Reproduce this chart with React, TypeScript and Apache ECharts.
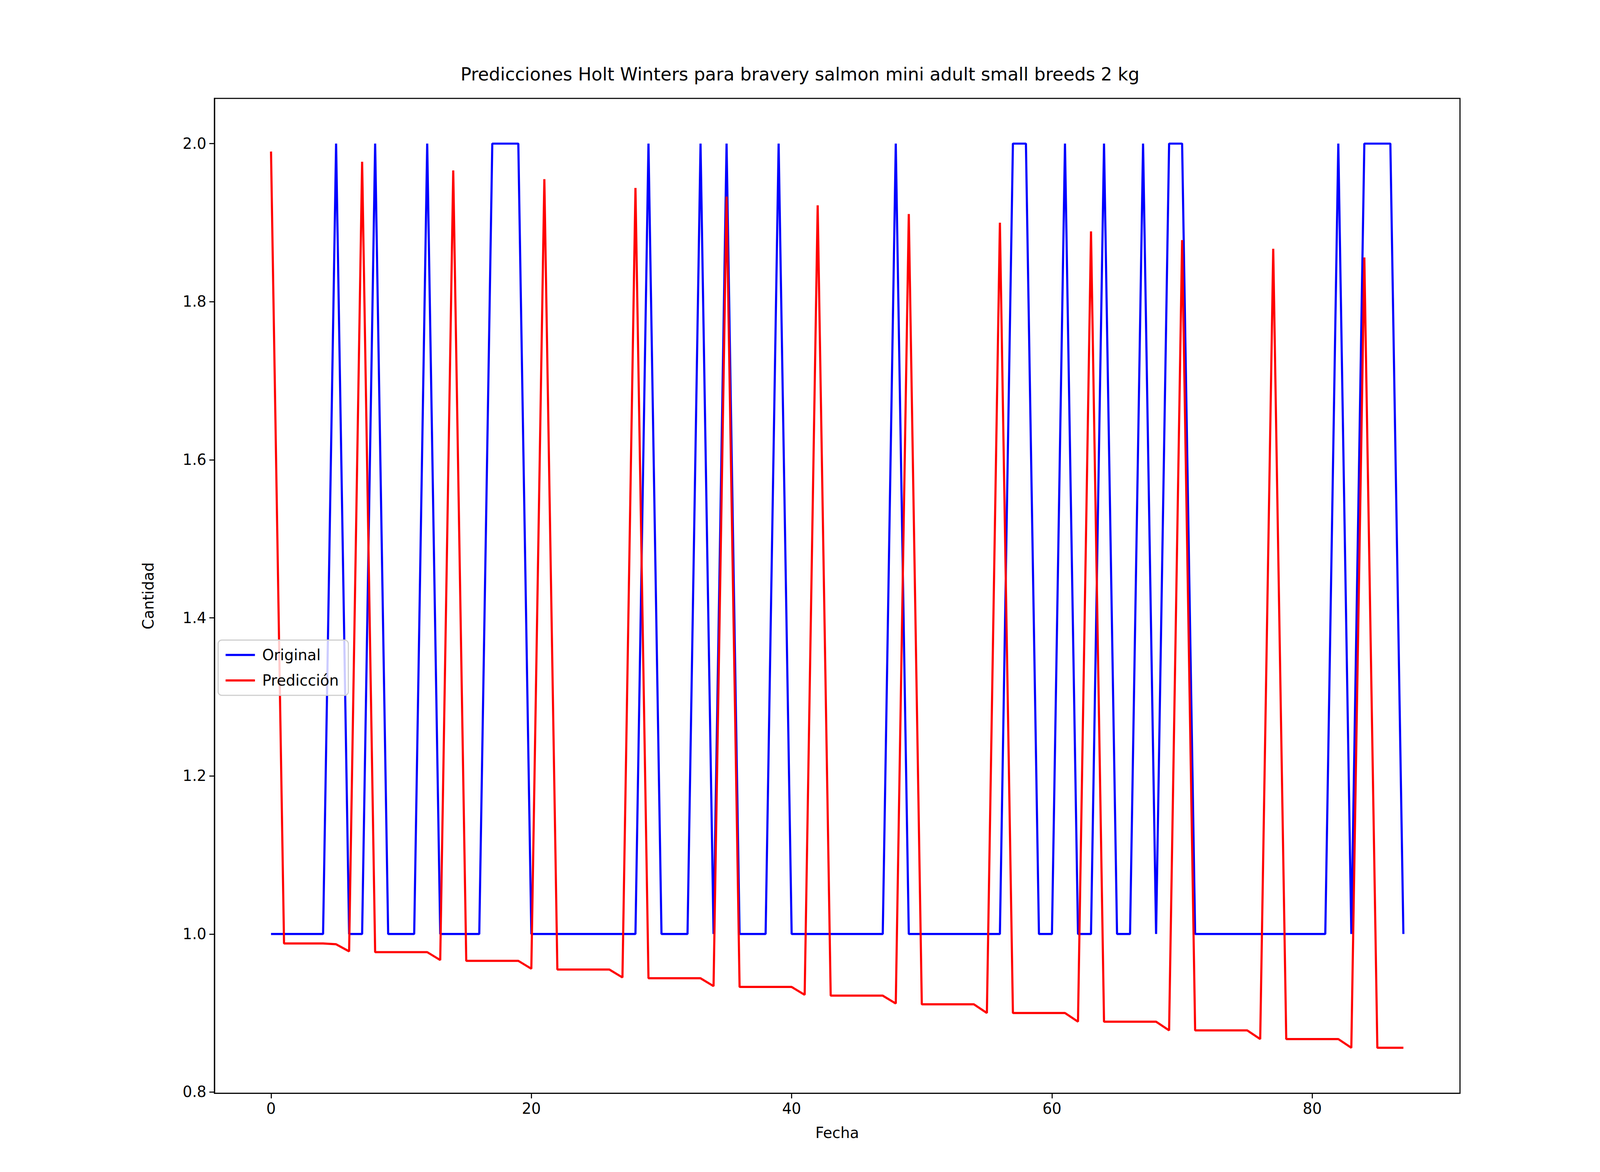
import React, { useEffect, useRef } from 'react';
import * as echarts from 'echarts';

const fechas = Array.from({ length: 88 }, (_, i) => i);

const original = [
  1, 1, 1, 1, 1, 2, 1, 1, 2, 1, 1, 1, 2, 1, 1, 1, 1, 2, 2, 2,
  1, 1, 1, 1, 1, 1, 1, 1, 1, 2, 1, 1, 1, 2, 1, 2, 1, 1, 1, 2,
  1, 1, 1, 1, 1, 1, 1, 1, 2, 1, 1, 1, 1, 1, 1, 1, 1, 2, 2, 1,
  1, 2, 1, 1, 2, 1, 1, 2, 1, 2, 2, 1, 1, 1, 1, 1, 1, 1, 1, 1,
  1, 1, 2, 1, 2, 2, 2, 1,
];

const prediccion = [
  1.99, 0.988, 0.988, 0.988, 0.988, 0.987, 0.978, 1.977, 0.977, 0.977,
  0.977, 0.977, 0.977, 0.967, 1.966, 0.966, 0.966, 0.966, 0.966, 0.966,
  0.956, 1.955, 0.955, 0.955, 0.955, 0.955, 0.955, 0.945, 1.944, 0.944,
  0.944, 0.944, 0.944, 0.944, 0.934, 1.933, 0.933, 0.933, 0.933, 0.933,
  0.933, 0.923, 1.922, 0.922, 0.922, 0.922, 0.922, 0.922, 0.912, 1.911,
  0.911, 0.911, 0.911, 0.911, 0.911, 0.9, 1.9, 0.9, 0.9, 0.9,
  0.9, 0.9, 0.889, 1.889, 0.889, 0.889, 0.889, 0.889, 0.889, 0.878,
  1.878, 0.878, 0.878, 0.878, 0.878, 0.878, 0.867, 1.867, 0.867, 0.867,
  0.867, 0.867, 0.867, 0.856, 1.856, 0.856, 0.856, 0.856,
];

const xTicks = [0, 20, 40, 60, 80];
const yTicks = [0.8, 1.0, 1.2, 1.4, 1.6, 1.8, 2.0];

const font = 'DejaVu Sans';

export default function App() {
  const ref = useRef<HTMLDivElement>(null);

  useEffect(() => {
    if (!ref.current) return;
    document.body.style.margin = '0';
    const w = window.innerWidth;
    const h = window.innerHeight;
    ref.current.style.width = w + 'px';
    ref.current.style.height = h + 'px';
    const s = Math.min(w / 6000, h / 3000);
    const chart = echarts.init(ref.current, null, { renderer: 'svg' });
    const axisCommon = {
      axisLine: { show: true, onZero: false, lineStyle: { color: '#000', width: 4 * s } },
      axisTick: { show: true, inside: false, length: 19 * s, lineStyle: { color: '#000', width: 4 * s } },
      splitLine: { show: false },
    };
    const fs = 56 * s;
    chart.setOption({
      animation: false,
      backgroundColor: '#fff',
      textStyle: { fontFamily: font },
      title: {
        text: 'Predicciones Holt Winters para bravery salmon mini adult small breeds 2 kg',
        left: 'center',
        top: 238 * s,
        textStyle: { fontFamily: font, fontSize: 67 * s, fontWeight: 'normal', color: '#000' },
      },
      grid: {
        left: 804 * s, right: 525 * s, top: 369 * s, bottom: 295 * s,
        show: true, borderColor: '#000', borderWidth: 4 * s, backgroundColor: 'transparent',
      },
      legend: {
        orient: 'vertical',
        left: 818 * s,
        top: 2400 * s,
        data: ['Original', 'Predicción'],
        backgroundColor: 'rgba(255,255,255,0.8)',
        borderColor: '#ccc',
        borderWidth: 4 * s,
        borderRadius: 14 * s,
        padding: [28 * s, 36 * s, 28 * s, 28 * s],
        itemWidth: 110 * s,
        itemHeight: 8 * s,
        itemGap: 40 * s,
        icon: 'rect',
        textStyle: { fontFamily: font, fontSize: fs, color: '#000', padding: [0, 0, 0, 20 * s] },
      },
      xAxis: {
        type: 'value',
        min: -4.35,
        max: 91.35,
        name: 'Fecha',
        nameLocation: 'middle',
        nameGap: 120 * s,
        nameTextStyle: { fontFamily: font, fontSize: fs, color: '#000' },
        ...axisCommon,
        axisTick: { ...axisCommon.axisTick, customValues: xTicks },
        axisLabel: { customValues: xTicks, fontFamily: font, fontSize: fs, color: '#000', margin: 30 * s },
      },
      yAxis: {
        type: 'value',
        min: 0.7984,
        max: 2.0572,
        name: 'Cantidad',
        nameLocation: 'middle',
        nameGap: 220 * s,
        nameTextStyle: { fontFamily: font, fontSize: fs, color: '#000' },
        ...axisCommon,
        axisTick: { ...axisCommon.axisTick, customValues: yTicks },
        axisLabel: {
          customValues: yTicks, fontFamily: font, fontSize: fs, color: '#000', margin: 30 * s,
          formatter: (v: number) => v.toFixed(1),
        },
      },
      series: [
        {
          name: 'Original', type: 'line', showSymbol: false,
          data: fechas.map((x, i) => [x, original[i]]),
          lineStyle: { color: '#0000ff', width: 8 * s }, itemStyle: { color: '#0000ff' },
        },
        {
          name: 'Predicción', type: 'line', showSymbol: false,
          data: fechas.map((x, i) => [x, prediccion[i]]),
          lineStyle: { color: '#ff0000', width: 8 * s }, itemStyle: { color: '#ff0000' },
        },
      ],
    });
    return () => chart.dispose();
  }, []);

  return <div ref={ref} style={{ width: 6000, height: 3000 }} />;
}
